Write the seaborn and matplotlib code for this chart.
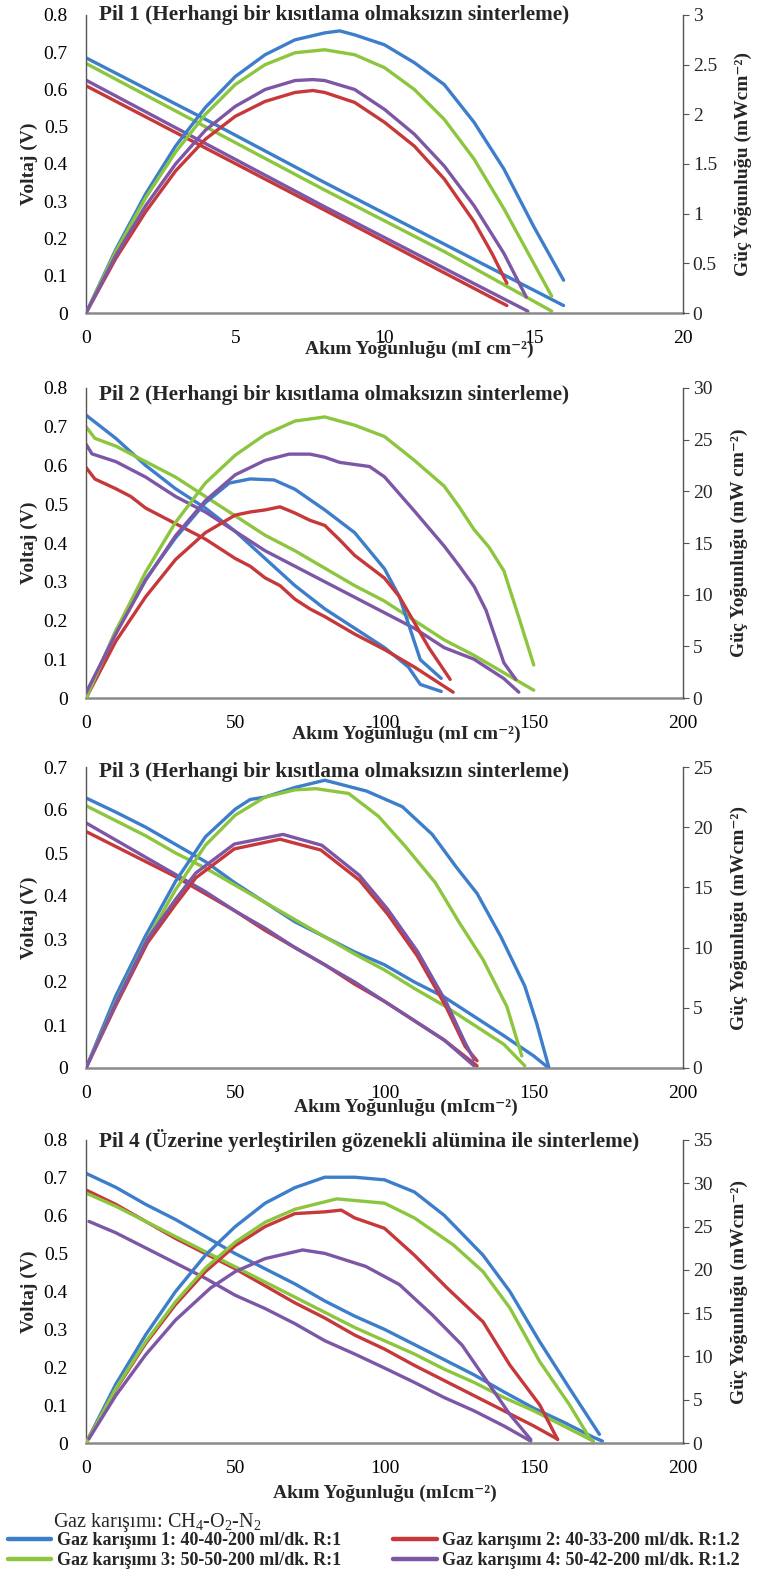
import matplotlib
matplotlib.use('Agg')
import matplotlib.pyplot as plt
from matplotlib.ticker import FuncFormatter
from matplotlib.lines import Line2D
import seaborn as sns

mixes = ['Gaz karışımı 1: 40-40-200 ml/dk. R:1',
         'Gaz karışımı 2: 40-33-200 ml/dk. R:1.2',
         'Gaz karışımı 3: 50-50-200 ml/dk. R:1',
         'Gaz karışımı 4: 50-42-200 ml/dk. R:1.2']
colors = ['#3d7ecb', '#c6383a', '#8cc63e', '#7d56a6']

# ---- Pil 1 : voltage (V) and power (mW/cm2) vs current (mA/cm2)
p1_v_blue = [(0, 0.685), (4, 0.52), (8, 0.35), (12, 0.185), (16, 0.02)]
p1_v_red = [(0, 0.61), (4, 0.443), (8, 0.276), (12, 0.108), (14.1, 0.02)]
p1_v_green = [(0, 0.67), (4, 0.5), (8, 0.33), (12, 0.165), (15.6, 0.005)]
p1_v_purple = [(0, 0.625), (4, 0.455), (8, 0.285), (12, 0.12), (14.8, 0.005)]
p1_p_blue = [(0, 0), (1, 0.64), (2, 1.2), (3, 1.68), (4, 2.07), (5, 2.38), (6, 2.6), (7, 2.75),
             (8, 2.82), (8.5, 2.84), (9, 2.8), (10, 2.7), (11, 2.52), (12, 2.3), (13, 1.92),
             (14, 1.45), (15, 0.87), (16, 0.33)]
p1_p_red = [(0, 0), (1, 0.55), (2, 1.02), (3, 1.43), (4, 1.75), (5, 1.98), (6, 2.13), (7, 2.22),
            (7.6, 2.24), (8, 2.22), (9, 2.12), (10, 1.92), (11, 1.68), (12, 1.35), (13, 0.92),
            (13.6, 0.6), (14.1, 0.3)]
p1_p_green = [(0, 0), (1, 0.62), (2, 1.16), (3, 1.62), (4, 2.0), (5, 2.3), (6, 2.5), (7, 2.62),
              (8, 2.65), (9, 2.6), (10, 2.47), (11, 2.25), (12, 1.95), (13, 1.55), (14, 1.05),
              (15, 0.5), (15.6, 0.17)]
p1_p_purple = [(0, 0), (1, 0.58), (2, 1.08), (3, 1.5), (4, 1.84), (5, 2.08), (6, 2.25), (7, 2.34),
               (7.6, 2.35), (8, 2.34), (9, 2.25), (10, 2.05), (11, 1.8), (12, 1.48), (13, 1.08),
               (14, 0.6), (14.75, 0.16)]

# ---- Pil 2
p2_v_blue = [(0, 0.73), (10, 0.67), (20, 0.6), (30, 0.54), (40, 0.49), (50, 0.43), (60, 0.36),
             (70, 0.29), (80, 0.23), (90, 0.18), (100, 0.13), (108, 0.08), (112, 0.035), (119, 0.017)]
p2_v_red = [(0, 0.595), (3, 0.565), (10, 0.54), (15, 0.52), (20, 0.49), (30, 0.45), (40, 0.41),
            (50, 0.36), (55, 0.34), (60, 0.31), (65, 0.29), (70, 0.255), (75, 0.23), (80, 0.21),
            (90, 0.165), (100, 0.125), (110, 0.08), (118, 0.04), (123, 0.015)]
p2_v_green = [(0, 0.7), (3, 0.67), (10, 0.65), (20, 0.61), (30, 0.57), (40, 0.52), (50, 0.47),
              (60, 0.42), (70, 0.38), (80, 0.335), (90, 0.29), (100, 0.25), (110, 0.2), (120, 0.15),
              (130, 0.11), (140, 0.065), (150, 0.02)]
p2_v_purple = [(0, 0.655), (2, 0.63), (10, 0.61), (20, 0.57), (30, 0.52), (40, 0.48), (50, 0.43),
               (60, 0.38), (70, 0.34), (80, 0.3), (90, 0.26), (100, 0.22), (110, 0.18), (120, 0.13),
               (130, 0.1), (140, 0.05), (145, 0.015)]
p2_p_blue = [(0, 0), (10, 6.5), (20, 11.5), (30, 15.5), (40, 18.9), (48, 20.8), (55, 21.2),
             (63, 21.1), (70, 20.2), (80, 18.2), (90, 16.0), (100, 12.5), (105, 9.8), (112, 3.7),
             (119, 1.9)]
p2_p_red = [(0, 0), (10, 5.5), (20, 9.8), (30, 13.4), (40, 16.0), (50, 17.7), (55, 18.0), (60, 18.2),
            (65, 18.5), (70, 17.9), (75, 17.2), (80, 16.7), (85, 15.3), (90, 13.8), (100, 11.6),
            (105, 9.8), (110, 7.3), (115, 4.8), (122, 1.8)]
p2_p_green = [(0, 0), (10, 6.5), (20, 12.2), (30, 17.0), (40, 20.8), (50, 23.5), (60, 25.5),
              (70, 26.8), (80, 27.2), (90, 26.4), (100, 25.3), (110, 23.0), (120, 20.5), (125, 18.5),
              (130, 16.3), (135, 14.6), (140, 12.3), (145, 7.8), (150, 3.2)]
p2_p_purple = [(0, 0.5), (10, 6.2), (20, 11.4), (30, 15.7), (40, 19.1), (50, 21.6), (60, 23.0),
               (68, 23.6), (75, 23.6), (80, 23.3), (85, 22.8), (95, 22.4), (100, 21.4), (110, 18.1),
               (120, 14.7), (125, 12.8), (130, 10.8), (134, 8.5), (140, 3.4), (144, 1.8)]

# ---- Pil 3
p3_v_blue = [(0, 0.628), (10, 0.595), (20, 0.56), (30, 0.52), (40, 0.48), (50, 0.43), (60, 0.385),
             (70, 0.34), (80, 0.305), (90, 0.27), (100, 0.24), (110, 0.2), (120, 0.165), (130, 0.12),
             (140, 0.075), (150, 0.028), (155, 0.0)]
p3_v_red = [(0, 0.55), (10, 0.515), (20, 0.48), (30, 0.445), (40, 0.405), (50, 0.365), (60, 0.32),
            (70, 0.28), (80, 0.24), (90, 0.195), (100, 0.155), (110, 0.11), (120, 0.065), (131, 0.005)]
p3_v_green = [(0, 0.61), (10, 0.575), (20, 0.54), (30, 0.5), (40, 0.465), (50, 0.425), (60, 0.385),
              (70, 0.345), (80, 0.305), (90, 0.265), (100, 0.228), (110, 0.185), (120, 0.145),
              (130, 0.1), (140, 0.055), (147, 0.005)]
p3_v_purple = [(0, 0.57), (10, 0.53), (20, 0.49), (30, 0.45), (40, 0.41), (50, 0.365), (60, 0.325),
               (70, 0.28), (80, 0.24), (90, 0.2), (100, 0.155), (110, 0.11), (120, 0.065), (130, 0.005)]
p3_p_blue = [(0, 0), (10, 6.0), (20, 11.0), (30, 15.5), (40, 19.2), (50, 21.5), (55, 22.3),
             (60, 22.5), (70, 23.3), (80, 23.9), (94, 23.0), (106, 21.7), (116, 19.4), (124, 16.7),
             (131, 14.5), (139, 10.9), (147, 6.8), (151, 3.7), (155, 0.1)]
p3_p_red = [(0, 0), (10, 5.2), (20.6, 10.4), (30, 13.6), (36.8, 15.8), (49.7, 18.2), (65, 19.0),
            (78.7, 18.1), (91.6, 15.6), (101, 12.8), (111, 9.3), (120.6, 5.1), (127, 1.8), (131, 0.6)]
p3_p_green = [(0, 0), (10, 5.5), (20, 10.5), (30, 14.8), (40, 18.5), (50, 21.0), (60, 22.5),
              (70, 23.1), (77, 23.2), (88, 22.8), (98, 20.9), (107, 18.4), (117, 15.4), (125, 12.1),
              (133, 9.0), (141, 5.1), (146, 1.0)]
p3_p_purple = [(0, 0), (10, 5.4), (20.6, 10.7), (30, 14.0), (36.8, 16.2), (49.7, 18.6), (66, 19.4),
               (79, 18.5), (91.6, 16.0), (101, 13.2), (111, 9.7), (120.6, 5.5), (127, 2.1), (130, 0.7)]

# ---- Pil 4
p4_v_blue = [(0, 0.712), (10, 0.675), (20, 0.63), (30, 0.59), (40, 0.545), (50, 0.5), (60, 0.46),
             (70, 0.42), (80, 0.375), (90, 0.335), (100, 0.3), (110, 0.26), (120, 0.22), (130, 0.18),
             (140, 0.135), (150, 0.092), (160, 0.055), (170, 0.015), (173, 0.005)]
p4_v_red = [(0, 0.668), (10, 0.63), (20, 0.585), (30, 0.54), (40, 0.5), (50, 0.46), (60, 0.415),
            (70, 0.37), (80, 0.33), (90, 0.285), (100, 0.248), (110, 0.205), (120, 0.165), (130, 0.125),
            (140, 0.085), (150, 0.045), (158, 0.01)]
p4_v_green = [(0, 0.66), (10, 0.625), (20, 0.585), (30, 0.545), (40, 0.505), (50, 0.465), (60, 0.425),
              (70, 0.385), (80, 0.345), (90, 0.305), (100, 0.27), (110, 0.235), (120, 0.195), (130, 0.16),
              (140, 0.12), (150, 0.085), (160, 0.045), (170, 0.005)]
p4_v_purple = [(1, 0.585), (10, 0.555), (20, 0.515), (30, 0.475), (40, 0.435), (50, 0.39), (60, 0.355),
               (70, 0.315), (80, 0.27), (90, 0.235), (100, 0.198), (110, 0.16), (120, 0.12), (130, 0.085),
               (140, 0.045), (149, 0.005)]
p4_p_blue = [(0, 0), (10, 6.8), (20, 12.5), (30, 17.5), (40, 21.7), (50, 25.0), (60, 27.7), (70, 29.5),
             (80, 30.7), (90, 30.7), (100, 30.4), (110, 29.0), (120, 26.3), (133, 21.7), (142, 17.5),
             (152, 11.7), (162, 6.3), (172, 1.0)]
p4_p_red = [(0, 0), (10, 6.2), (20, 11.5), (30, 16.0), (40, 19.8), (50, 22.8), (60, 25.0), (70, 26.5),
            (80, 26.7), (85.5, 26.9), (90, 26.0), (100, 24.8), (110, 21.7), (121, 17.9), (133, 14.0),
            (142, 9.0), (152, 4.4), (158, 0.4)]
p4_p_green = [(0, 0), (10, 6.3), (20, 11.7), (30, 16.3), (40, 20.2), (50, 23.2), (60, 25.5), (70, 27.0),
              (84, 28.2), (100, 27.7), (110, 26.0), (123, 22.9), (133, 19.8), (142, 15.6), (152, 9.4),
              (162, 4.4), (169, 0.4)]
p4_p_purple = [(1, 0.5), (10, 5.5), (20, 10.2), (30, 14.2), (41.7, 17.9), (50, 19.8), (60, 21.3),
               (72.6, 22.3), (80, 21.9), (93.7, 20.4), (105, 18.3), (116, 14.8), (126, 11.3),
               (136, 6.3), (142, 3.3), (149, 0.4)]

panels = [
    dict(title='Pil 1 (Herhangi bir kısıtlama olmaksızın sinterleme)',
         v=[p1_v_blue, p1_v_red, p1_v_green, p1_v_purple],
         p=[p1_p_blue, p1_p_red, p1_p_green, p1_p_purple],
         xmax=20, xstep=5, vmax=0.8, pmax=3, pstep=0.5,
         xlabel='Akım Yoğunluğu (mI cm⁻²)', plabel='Güç Yoğunluğu (mWcm⁻²)',
         top=15, bottom=313, title_dy=0, xlab_x=0.559, labelpad=-4),
    dict(title='Pil 2 (Herhangi bir kısıtlama olmaksızın sinterleme)',
         v=[p2_v_blue, p2_v_red, p2_v_green, p2_v_purple],
         p=[p2_p_blue, p2_p_red, p2_p_green, p2_p_purple],
         xmax=200, xstep=50, vmax=0.8, pmax=30, pstep=5,
         xlabel='Akım Yoğunluğu (mI cm⁻²)', plabel='Güç Yoğunluğu (mW cm⁻²)',
         top=388, bottom=698, title_dy=7, xlab_x=0.536, labelpad=-4),
    dict(title='Pil 3 (Herhangi bir kısıtlama olmaksızın sinterleme)',
         v=[p3_v_blue, p3_v_red, p3_v_green, p3_v_purple],
         p=[p3_p_blue, p3_p_red, p3_p_green, p3_p_purple],
         xmax=200, xstep=50, vmax=0.7, pmax=25, pstep=5,
         xlabel='Akım Yoğunluğu (mIcm⁻²)', plabel='Güç Yoğunluğu (mWcm⁻²)',
         top=767, bottom=1068, title_dy=5, xlab_x=0.536, labelpad=-2),
    dict(title='Pil 4 (Üzerine yerleştirilen gözenekli alümina ile sinterleme)',
         v=[p4_v_blue, p4_v_red, p4_v_green, p4_v_purple],
         p=[p4_p_blue, p4_p_red, p4_p_green, p4_p_purple],
         xmax=200, xstep=50, vmax=0.8, pmax=35, pstep=5,
         xlabel='Akım Yoğunluğu (mIcm⁻²)', plabel='Güç Yoğunluğu (mWcm⁻²)',
         top=1140, bottom=1443, title_dy=0, xlab_x=0.50, labelpad=6),
]

sns.set_style('white')
plt.rcParams['font.family'] = ['Liberation Serif', 'DejaVu Serif']
plt.rcParams['mathtext.fontset'] = 'custom'
plt.rcParams['mathtext.rm'] = 'Liberation Serif'

W, H = 757, 1578
fig = plt.figure(figsize=(W / 100, H / 100), dpi=100)
fmt = FuncFormatter(lambda v, pos: f'{v:g}')
left, right = 86, 683

for pn in panels:
    ax = fig.add_axes([left / W, 1 - pn['bottom'] / H, (right - left) / W, (pn['bottom'] - pn['top']) / H])
    ax2 = ax.twinx()
    for pts, c in zip(pn['v'], colors):
        sns.lineplot(x=[a for a, b in pts], y=[b for a, b in pts], ax=ax, color=c, lw=2.4,
                     sort=False, estimator=None)
    for pts, c in zip(pn['p'], colors):
        sns.lineplot(x=[a for a, b in pts], y=[b for a, b in pts], ax=ax2, color=c, lw=2.4,
                     sort=False, estimator=None)
    n = int(round(pn['xmax'] / pn['xstep']))
    ax.set_xlim(0, pn['xmax'])
    ax.set_xticks([i * pn['xstep'] for i in range(n + 1)])
    ax.set_ylim(0, pn['vmax'])
    ax.set_yticks([i / 10 for i in range(int(round(pn['vmax'] * 10)) + 1)])
    ax2.set_ylim(0, pn['pmax'])
    m = int(round(pn['pmax'] / pn['pstep']))
    ax2.set_yticks([i * pn['pstep'] for i in range(m + 1)])
    ax.yaxis.set_major_formatter(fmt)
    ax2.yaxis.set_major_formatter(fmt)
    ax.xaxis.set_major_formatter(fmt)

    for a in (ax, ax2):
        a.spines['top'].set_visible(False)
        a.set_facecolor('none')
    ax.spines['right'].set_visible(False)
    ax2.spines['left'].set_visible(False)
    ax2.spines['bottom'].set_visible(False)
    ax.spines['left'].set_color('#555555')
    ax.spines['left'].set_linewidth(1.0)
    ax.spines['bottom'].set_color('#8a8a8a')
    ax.spines['bottom'].set_linewidth(1.8)
    ax2.spines['right'].set_color('#555555')
    ax2.spines['right'].set_linewidth(1.0)

    ax.tick_params(axis='y', length=0, pad=13, labelsize=14, colors='black')
    ax.tick_params(axis='x', length=0, pad=12, labelsize=14, colors='black')
    ax2.tick_params(axis='y', length=4, width=0.8, color='#555555', pad=3, labelsize=14)

    ax.set_ylabel('Voltaj (V)', fontsize=14, fontweight='bold', labelpad=4)
    ax2.set_ylabel(pn['plabel'], fontsize=14, fontweight='bold', labelpad=13)
    ax.set_xlabel(pn['xlabel'], fontsize=14, fontweight='bold', labelpad=pn['labelpad'])
    ax.xaxis.label.set_x(pn['xlab_x'])

    ax.text(0.022, 1 - pn['title_dy'] / (pn['bottom'] - pn['top']), pn['title'],
            transform=ax.transAxes, ha='left', va='center', fontsize=15.3, fontweight='bold')

fig.text(53 / W, 1 - 1522 / H, r'Gaz karışımı: CH$_4$-O$_2$-N$_2$', fontsize=14.5,
         ha='left', va='center')
handles = [Line2D([], [], color=c, lw=3.2) for c in colors]
order = [0, 2, 1, 3]
fig.legend([handles[i] for i in order], [mixes[i] for i in order], ncol=2,
           loc='upper left', bbox_to_anchor=(8 / W, 1 - 1532 / H), frameon=False,
           prop={'weight': 'bold', 'size': 13}, handlelength=2.4, handletextpad=0.3,
           columnspacing=2.9, labelspacing=0.18, borderaxespad=0, borderpad=0)

fig.savefig('out.png', dpi=100)
